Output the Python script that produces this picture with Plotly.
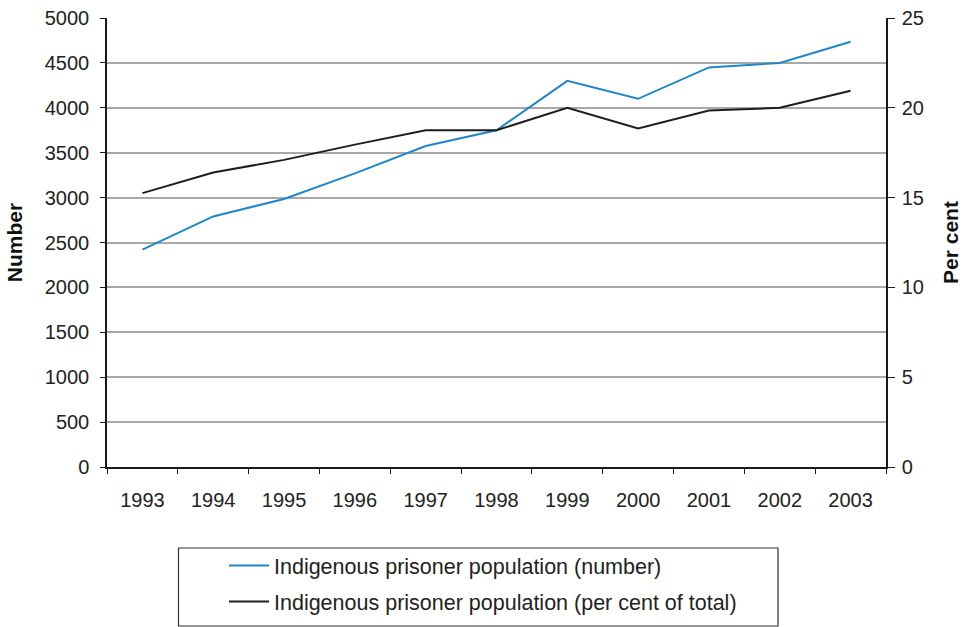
import plotly.graph_objects as go

years = ["1993", "1994", "1995", "1996", "1997", "1998", "1999", "2000", "2001", "2002", "2003"]
number = [2420, 2790, 2985, 3270, 3575, 3750, 4300, 4100, 4450, 4500, 4735]
per_cent = [15.25, 16.4, 17.1, 17.95, 18.75, 18.75, 20.0, 18.85, 19.85, 20.0, 20.95]
left_ticks = [0, 500, 1000, 1500, 2000, 2500, 3000, 3500, 4000, 4500, 5000]
right_ticks = [0, 5, 10, 15, 20, 25]

FONT = "Liberation Sans, Arial, sans-serif"
AX = "#1a1a1a"
GRID = "#a8a8a8"

fig = go.Figure()
fig.add_trace(go.Scatter(
    x=years, y=number, mode="lines", name="Indigenous prisoner population (number)",
    line=dict(color="#1f87c9", width=2), yaxis="y", legendgroup="a"))
fig.add_trace(go.Scatter(
    x=years, y=per_cent, mode="lines", name="Indigenous prisoner population (per cent of total)",
    line=dict(color="#1e1e1e", width=2), yaxis="y2", legendgroup="b"))

fig.update_layout(
    width=966, height=627,
    margin=dict(l=107, r=80, t=18, b=160, autoexpand=False),
    paper_bgcolor="white", plot_bgcolor="white",
    font=dict(family=FONT, size=20, color="#222"),
    xaxis=dict(
        type="category", range=[-0.5, 10.5], tickson="boundaries", automargin=False,
        showline=True, linecolor=AX, linewidth=1.5,
        ticks="outside", ticklen=5, tickcolor=AX, tickwidth=1,
        showgrid=False, zeroline=False, ticklabelstandoff=14,
        tickfont=dict(size=20, color="#222")),
    yaxis=dict(
        range=[0, 5000], tickvals=left_ticks, automargin=False,
        showline=True, linecolor=AX, linewidth=1.5,
        ticks="outside", ticklen=5, tickcolor=AX, tickwidth=1,
        showgrid=True, gridcolor=GRID, gridwidth=1.5, zeroline=False,
        ticklabelstandoff=7, tickfont=dict(size=20, color="#222"),
        title=dict(text="<b>Number</b>", font=dict(size=21, color="#111"), standoff=16)),
    yaxis2=dict(
        range=[0, 25], tickvals=right_ticks, overlaying="y", side="right", automargin=False,
        showline=True, linecolor=AX, linewidth=1.5,
        ticks="outside", ticklen=7, tickcolor=AX, tickwidth=1,
        showgrid=False, zeroline=False, ticklabelstandoff=3,
        tickfont=dict(size=20, color="#222"),
        title=dict(text="<b>Per cent</b>", font=dict(size=21, color="#111"), standoff=20)),
    showlegend=True,
    legend=dict(
        x=(224 - 107) / 779, y=-(545 - 467) / 449, xanchor="left", yanchor="top",
        bgcolor="rgba(0,0,0,0)", borderwidth=0, traceorder="grouped",
        font=dict(size=21.5, color="#222"), tracegroupgap=5, itemwidth=40),
    shapes=[dict(
        type="rect", xref="paper", yref="paper",
        x0=(178.5 - 107) / 779, x1=(778 - 107) / 779,
        y0=-(626 - 467) / 449, y1=-(548 - 467) / 449,
        line=dict(color="#333", width=1.2), fillcolor="rgba(0,0,0,0)")],
)

fig.write_html("out.html")
